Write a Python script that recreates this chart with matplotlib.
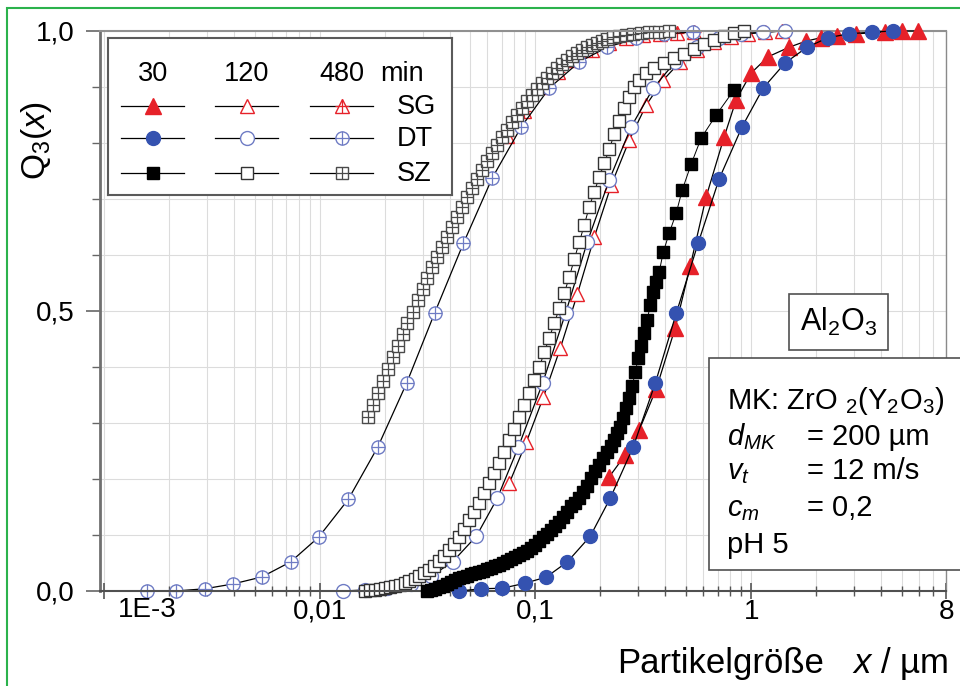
import matplotlib.pyplot as plt
import matplotlib.ticker as mticker
from matplotlib.patches import Rectangle

plt.rcParams['font.family'] = ['Liberation Sans', 'DejaVu Sans']
plt.rcParams['mathtext.fontset'] = 'custom'
plt.rcParams['mathtext.rm'] = 'Liberation Sans'
plt.rcParams['mathtext.it'] = 'Liberation Sans:italic'
plt.rcParams['mathtext.bf'] = 'Liberation Sans:bold'

# ---- data: particle size x in um, cumulative Q3 ----
sg30_x = [0.2201, 0.2610, 0.3030, 0.3633, 0.4448, 0.5220, 0.6189, 0.7499, 0.8522, 1.0,
          1.199, 1.499, 1.798, 2.109, 2.50, 3.063, 4.172, 5.00, 5.93]
sg30_q = [0.204, 0.243, 0.2875, 0.361, 0.470, 0.580, 0.704, 0.811, 0.877, 0.925,
          0.954, 0.971, 0.982, 0.988, 0.991, 0.995, 0.998, 1.0, 1.0]

sg120_x = [0.07579, 0.09085, 0.1089, 0.1306, 0.1565, 0.1876, 0.2248, 0.2724, 0.3266, 0.3914,
           0.4692, 0.5623, 0.6741, 0.8080, 0.9685, 1.161, 1.391]
sg120_q = [0.193, 0.266, 0.346, 0.434, 0.530, 0.632, 0.725, 0.805, 0.868, 0.9125,
           0.945, 0.966, 0.980, 0.989, 0.995, 0.998, 1.0]

sg480_x = [0.07420, 0.08895, 0.1066, 0.1278, 0.1532, 0.1836, 0.2201, 0.2638, 0.3162, 0.3791,
           0.4543, 0.5446]
sg480_q = [0.813, 0.858, 0.900, 0.926, 0.949, 0.966, 0.978, 0.987, 0.992, 0.995,
           0.997, 0.999]

dt30_x = [0.0445, 0.0562, 0.0704, 0.0899, 0.1125, 0.1407, 0.1798, 0.2225, 0.284, 0.3595,
          0.4498, 0.568, 0.711, 0.908, 1.137, 1.437, 1.816, 2.27, 2.84, 3.63, 4.54]
dt30_q = [0.0, 0.004, 0.005, 0.014, 0.025, 0.052, 0.098, 0.166, 0.257, 0.371,
          0.496, 0.621, 0.736, 0.829, 0.898, 0.943, 0.971, 0.988, 0.995, 0.998, 1.0]

dt120_x = [0.0129, 0.0163, 0.0206, 0.0264, 0.0330, 0.0413, 0.0533, 0.0667, 0.0834, 0.108,
           0.138, 0.174, 0.220, 0.278, 0.352, 0.445, 0.562, 0.711, 0.899, 1.137, 1.437]
dt120_q = [0.0, 0.002, 0.005, 0.013, 0.027, 0.052, 0.098, 0.166, 0.257, 0.371,
           0.496, 0.623, 0.734, 0.829, 0.898, 0.945, 0.971, 0.988, 0.995, 0.998, 1.0]

dt480_x = [0.00158, 0.00215, 0.00294, 0.00396, 0.00539, 0.00734, 0.00989, 0.0136, 0.0186, 0.0253,
           0.0341, 0.0464, 0.0632, 0.0861, 0.116, 0.160, 0.215, 0.294, 0.396, 0.54]
dt480_q = [0.0, 0.0, 0.004, 0.0125, 0.025, 0.052, 0.096, 0.164, 0.257, 0.371,
           0.496, 0.621, 0.738, 0.829, 0.898, 0.945, 0.971, 0.987, 0.995, 0.998]

sz30_x = [0.03162, 0.03300, 0.03444, 0.03594, 0.03750, 0.03914, 0.04084, 0.04262, 0.04448, 0.04642,
          0.04844, 0.05055, 0.05275, 0.05506, 0.05745, 0.05995, 0.06256, 0.06529, 0.06813, 0.07110,
          0.07420, 0.07743, 0.08080, 0.08433, 0.08799, 0.09183, 0.09583, 0.1000, 0.1044, 0.1089,
          0.1137, 0.1186, 0.1238, 0.1292, 0.1348, 0.1407, 0.1468, 0.1532, 0.1599, 0.1669,
          0.1741, 0.1817, 0.1896, 0.1978, 0.2065, 0.2154, 0.2248,
          0.2321, 0.2397, 0.2475, 0.2555, 0.2638, 0.2724, 0.2812, 0.2904, 0.2999, 0.3096,
          0.3196, 0.3300, 0.3407, 0.3518, 0.3633, 0.3750,
          0.3914, 0.4172, 0.4496, 0.4793, 0.5275, 0.5870, 0.6887, 0.8343]
sz30_q = [0.0, 0.002, 0.004, 0.007, 0.009, 0.0125, 0.016, 0.020, 0.023, 0.025,
          0.027, 0.030, 0.032, 0.034, 0.036, 0.039, 0.041, 0.045, 0.046, 0.050,
          0.054, 0.057, 0.061, 0.064, 0.068, 0.071, 0.077, 0.082, 0.089, 0.096,
          0.102, 0.109, 0.116, 0.123, 0.132, 0.141, 0.152, 0.157, 0.166, 0.177,
          0.1875, 0.202, 0.214, 0.225, 0.2375, 0.248, 0.259,
          0.270, 0.282, 0.293, 0.309, 0.327, 0.345, 0.366, 0.391, 0.416, 0.4375,
          0.461, 0.484, 0.511, 0.534, 0.552, 0.570,
          0.605, 0.639, 0.675, 0.716, 0.7625, 0.809, 0.850, 0.895]

sz120_x = [0.01616, 0.01704, 0.01798, 0.01896, 0.02000, 0.02109, 0.02225, 0.02346, 0.02475, 0.02610,
           0.02754, 0.02904, 0.03063, 0.03231, 0.03407, 0.03594, 0.03791, 0.03998, 0.04217, 0.04448,
           0.04692, 0.04949, 0.05220, 0.05506, 0.05808, 0.06124, 0.06460, 0.06813, 0.07187, 0.07579,
           0.07995, 0.08433, 0.08895, 0.09380, 0.09894, 0.1044, 0.1101, 0.1161, 0.1225, 0.1292,
           0.1362, 0.1437, 0.1516, 0.1599, 0.1686, 0.1778, 0.1876, 0.1978, 0.2087, 0.2201,
           0.2321, 0.2448, 0.2582, 0.2724, 0.2873, 0.3030,
           0.3266, 0.3555, 0.3956, 0.4401, 0.4895, 0.5446, 0.6059, 0.6741, 0.7499, 0.8343, 0.9281]
sz120_q = [0.0, 0.001, 0.002, 0.004, 0.005, 0.007, 0.009, 0.011, 0.014, 0.018,
           0.021, 0.027, 0.032, 0.038, 0.045, 0.054, 0.063, 0.073, 0.084, 0.096,
           0.111, 0.127, 0.141, 0.157, 0.175, 0.193, 0.211, 0.229, 0.248, 0.270,
           0.289, 0.311, 0.332, 0.354, 0.377, 0.400, 0.427, 0.452, 0.479, 0.505,
           0.532, 0.561, 0.593, 0.623, 0.654, 0.686, 0.713, 0.739, 0.764, 0.789,
           0.816, 0.839, 0.863, 0.882, 0.900, 0.913,
           0.925, 0.934, 0.943, 0.952, 0.959, 0.968, 0.977, 0.984, 0.991, 0.996, 1.0]

sz480_x = [0.01669, 0.01760, 0.01856, 0.01957, 0.02065, 0.02178, 0.02297, 0.02423, 0.02555, 0.02696,
           0.02843, 0.02999, 0.03162, 0.03336, 0.03518, 0.03711, 0.03914, 0.04128, 0.04354, 0.04592,
           0.04844, 0.05109, 0.05389, 0.05683, 0.05995, 0.06323, 0.06669, 0.07034, 0.07420, 0.07826,
           0.08255, 0.08707, 0.09183, 0.09685, 0.1022, 0.1078, 0.1137, 0.1199, 0.1264, 0.1334,
           0.1407, 0.1483, 0.1565, 0.1650, 0.1741, 0.1836, 0.1937, 0.2043, 0.2154, 0.2297,
           0.2448, 0.2638, 0.2843, 0.3096, 0.3371, 0.3750, 0.4172]
sz480_q = [0.311, 0.332, 0.354, 0.375, 0.396, 0.418, 0.438, 0.459, 0.479, 0.498,
           0.520, 0.539, 0.559, 0.579, 0.596, 0.614, 0.632, 0.650, 0.668, 0.686,
           0.704, 0.720, 0.736, 0.752, 0.768, 0.782, 0.796, 0.811, 0.823, 0.838,
           0.850, 0.862, 0.875, 0.886, 0.896, 0.907, 0.916, 0.925, 0.934, 0.941,
           0.948, 0.955, 0.961, 0.966, 0.971, 0.975, 0.979, 0.982, 0.986, 0.989,
           0.991, 0.993, 0.995, 0.996, 0.998, 0.998, 1.0]

times = ['30', '120', '480']
materials = ['SG', 'DT', 'SZ']
x_ticks = [1e-3, 1e-2, 1e-1, 1, 8]
x_ticklabels = ['', '0,01', '0,1', '1', '8']
y_ticks = [0.0, 0.5, 1.0]
y_ticklabels = ['0,0', '0,5', '1,0']

RED = '#e62129'
BLUE = '#3452b0'
BLUE_LT = '#6f7cc4'
GREY = '#4a4a4a'

# marker style per (material, time): marker, face, edge, size, crossed
styles = {
    ('SG', '30'): ('^', RED, RED, 11, False),
    ('SG', '120'): ('^', 'white', RED, 10.5, False),
    ('SG', '480'): ('^', 'white', RED, 10.5, True),
    ('DT', '30'): ('o', BLUE, BLUE, 10, False),
    ('DT', '120'): ('o', 'white', BLUE_LT, 10, False),
    ('DT', '480'): ('o', 'white', BLUE_LT, 9.5, True),
    ('SZ', '30'): ('s', 'black', 'black', 8.3, False),
    ('SZ', '120'): ('s', 'white', '#333333', 9, False),
    ('SZ', '480'): ('s', 'white', GREY, 8.3, True),
}


def draw(ax, x, y, key, z, lw=0.9):
    m, fc, ec, ms, crossed = styles[key]
    ax.plot(x, y, '-', color='black', lw=lw, marker=m, mfc=fc, mec=ec, ms=ms,
            mew=1.0, zorder=z, clip_on=False)
    if crossed:
        ax.plot(x, y, ls='none', marker='+', mec=ec, ms=ms, mew=0.9,
                zorder=z + 0.01, clip_on=False)


fig = plt.figure(figsize=(9.6, 6.86), dpi=100)
W, H = 960, 686


def fx(px):
    return px / W


def fy(py):
    return 1 - py / H


ax = fig.add_axes([fx(100), fy(591), 846 / W, 560 / H])
ax.set_xscale('log')
ax.set_xlim(0.00096, 8)
ax.set_ylim(0, 1)

ax.set_xticks(x_ticks)
ax.set_xticklabels(x_ticklabels)
ax.xaxis.set_minor_locator(mticker.LogLocator(base=10, subs=range(2, 10), numticks=20))
ax.xaxis.set_minor_formatter(mticker.NullFormatter())
ax.set_yticks(y_ticks)
ax.set_yticklabels(y_ticklabels)
ax.yaxis.set_minor_locator(mticker.MultipleLocator(0.1))

ax.tick_params(axis='x', which='major', direction='inout', length=11, width=1.2,
               labelsize=20, pad=0, color='#555555')
ax.tick_params(axis='x', which='minor', direction='inout', length=7, width=1.0, color='#555555')
ax.tick_params(axis='y', which='major', direction='out', length=10, width=1.2,
               labelsize=20, pad=8, color='#666666')
ax.tick_params(axis='y', which='minor', direction='out', length=6, width=1.0, color='#666666')

ax.grid(True, which='both', color='#dcdcdc', lw=0.8)
ax.set_axisbelow(True)
for side, col, w in [('left', '#707070', 2.0), ('bottom', '#505050', 1.5),
                     ('top', '#909090', 1.5), ('right', '#8a8a8a', 1.0)]:
    ax.spines[side].set_color(col)
    ax.spines[side].set_linewidth(w)

ax.annotate('1E-3', xy=(1e-3, 0), xycoords=('data', 'axes fraction'),
            xytext=(10, -4), textcoords='offset points', ha='left', va='top', fontsize=20)

# series
draw(ax, sg480_x, sg480_q, ('SG', '480'), 2.0)
draw(ax, sg120_x, sg120_q, ('SG', '120'), 2.1)
draw(ax, dt480_x, dt480_q, ('DT', '480'), 2.2)
draw(ax, dt120_x, dt120_q, ('DT', '120'), 2.3)
draw(ax, sz480_x, sz480_q, ('SZ', '480'), 2.4, lw=0.7)
draw(ax, sz120_x, sz120_q, ('SZ', '120'), 2.5, lw=0.7)
draw(ax, sg30_x, sg30_q, ('SG', '30'), 2.6)
draw(ax, dt30_x, dt30_q, ('DT', '30'), 2.7)
draw(ax, sz30_x, sz30_q, ('SZ', '30'), 2.8, lw=0.7)

# axis titles
fig.text(fx(36), fy(180), 'Q$_3$($x$)', rotation=90, ha='center', va='bottom', fontsize=24)
fig.text(fx(721), fy(664), 'Partikelgröße', ha='center', va='center', fontsize=25)
fig.text(fx(900), fy(664), '$x$ / µm', ha='center', va='center', fontsize=25)

# legend block
lg = fig.add_axes([fx(108), fy(195), 344 / W, 157 / H])
lg.set_xlim(0, 344)
lg.set_ylim(157, 0)
lg.set_xticks([])
lg.set_yticks([])
for s in lg.spines.values():
    s.set_color('#5a5a5a')
    s.set_linewidth(1.5)
col_x = [45, 139, 234]
row_y = [68, 100, 135]
for cx, t in zip(col_x, times):
    lg.text(cx, 36, t, ha='center', va='center', fontsize=19.5)
lg.text(294, 36, 'min', ha='center', va='center', fontsize=19.5)
for ry, mat in zip(row_y, materials):
    lg.text(289, ry + 1, mat, ha='left', va='center', fontsize=19.5)
    for cx, t in zip(col_x, times):
        m, fc, ec, ms, crossed = styles[(mat, t)]
        lg.plot([cx - 32, cx + 31], [ry, ry], color='black', lw=0.9)
        lg.plot([cx], [ry], ls='none', marker=m, mfc=fc, mec=ec, ms=ms, mew=1.0)
        if crossed:
            lg.plot([cx], [ry], ls='none', marker='+', mec=ec, ms=ms, mew=0.9)

# info boxes
fig.add_artist(Rectangle((fx(789), fy(350)), 99 / W, 56 / H, transform=fig.transFigure,
                         facecolor='white', edgecolor='#505050', lw=1.2))
fig.text(fx(839), fy(322), 'Al$_2$O$_3$', ha='center', va='center', fontsize=22)

fig.add_artist(Rectangle((fx(709), fy(570)), 260 / W, 212 / H, transform=fig.transFigure,
                         facecolor='white', edgecolor='#505050', lw=1.2))
fig.text(fx(727), fy(409), 'MK: ZrO $_2$(Y$_2$O$_3$)', ha='left', va='baseline', fontsize=21)
rows = [('$d_{MK}$', '= 200 µm', 445), ('$v_t$', '= 12 m/s', 479), ('$c_m$', '= 0,2', 516)]
for lab, val, by in rows:
    fig.text(fx(727), fy(by), lab, ha='left', va='baseline', fontsize=21)
    fig.text(fx(807), fy(by), val, ha='left', va='baseline', fontsize=21)
fig.text(fx(727), fy(553), 'pH 5', ha='left', va='baseline', fontsize=21)

# green outer frame
fig.add_artist(Rectangle((fx(7), -0.05), 1.2, fy(8) + 0.05, transform=fig.transFigure,
                         fill=False, edgecolor='#2bb24c', lw=1.5))

fig.savefig('out.png', dpi=100)
